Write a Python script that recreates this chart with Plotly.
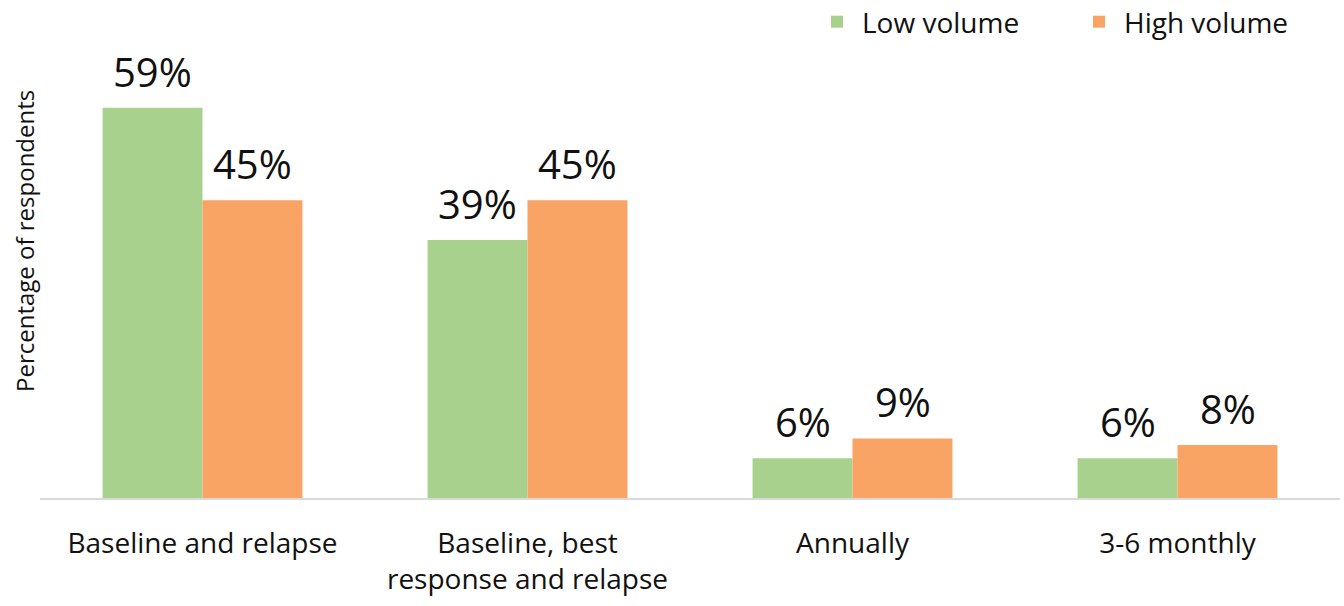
import plotly.graph_objects as go

categories = ["Baseline and relapse", "Baseline, best<br>response and relapse", "Annually", "3-6 monthly"]
low_volume = [59, 39, 6, 6]
high_volume = [45, 45, 9, 8]
series_names = ["Low volume", "High volume"]
colors = ["#A9D18E", "#F9A464"]

FONT = "Open Sans"
TXT = "#111111"

fig = go.Figure()
for name, vals, col in zip(series_names, [low_volume, high_volume], colors):
    fig.add_trace(go.Bar(x=categories, y=vals, name=name, marker_color=col,
                         marker_line_width=0, hoverinfo="skip"))

annotations = []
for vals, shift in [(low_volume, -50), (high_volume, 50)]:
    for c, v in zip(categories, vals):
        annotations.append(dict(x=c, y=v, xref="x", yref="y", text=f"{v}%",
                                showarrow=False, xanchor="center", yanchor="bottom",
                                xshift=shift, yshift=7,
                                font=dict(family=FONT, size=40, color=TXT)))

plot_top, plot_bottom = 68, 498
annotations.append(dict(x=(25 - 40) / (1344 - 44), y=(plot_bottom - 241) / (plot_bottom - plot_top),
                        xref="paper", yref="paper", text="Percentage of respondents",
                        showarrow=False, textangle=-90, xanchor="center", yanchor="middle",
                        font=dict(family=FONT, size=24, color=TXT)))

fig.update_layout(
    width=1344, height=606,
    margin=dict(l=40, r=4, t=68, b=108, autoexpand=False),
    plot_bgcolor="white", paper_bgcolor="white",
    barmode="group", bargap=0.385, bargroupgap=0,
    showlegend=True,
    legend=dict(orientation="h", x=(812 - 40) / 1300, xanchor="left",
                y=1 - 22 / 606, yanchor="middle", yref="container",
                font=dict(family=FONT, size=28, color=TXT),
                itemwidth=40, entrywidth=207, entrywidthmode="pixels",
                traceorder="normal"),
    font=dict(family=FONT, color=TXT),
    annotations=annotations,
)

fig.update_xaxes(showline=True, linecolor="#D9D9D9", linewidth=2, ticks="",
                 ticklabelstandoff=19,
                 tickfont=dict(family=FONT, size=28, color=TXT), showgrid=False)
fig.update_yaxes(range=[0, 65], showticklabels=False, showgrid=False, zeroline=False,
                 showline=False)

fig.write_html("out.html")
